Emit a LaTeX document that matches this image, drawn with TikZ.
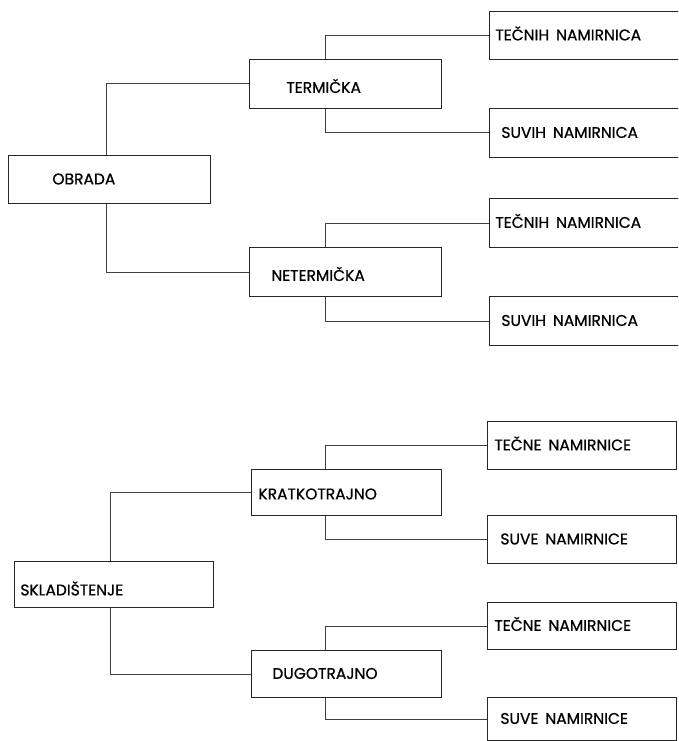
\documentclass[tikz,border=0pt]{standalone}
\usepackage{fontspec}
\setmainfont{Poppins}
\newfontfamily\boxfont{Poppins}[FakeBold=0.8]
\usetikzlibrary{positioning}
\tikzset{
  box/.style 2 args={draw=black!85, line width=0.8pt, anchor=north west,
    inner xsep=#1, inner ysep=0pt, text width=#2, align=left,
    text height=10pt, text depth=0pt,
    font=\boxfont\fontsize{15.5}{17}\selectfont},
  link/.style={draw=black!75, line width=0.8pt}
}
\newcommand\gap{\hspace{0.45em}}
\begin{document}
\begin{tikzpicture}[x=1pt,y=-1pt]
\clip (0,0) rectangle (678,741);
% obrada
\node[box={44pt}{114pt}, minimum height=48pt] (ob) at (8,155) {OBRADA};
\node[box={37pt}{118pt}, minimum height=49pt, text height=18pt] (te) at (249,59) {TERMIČKA};
\node[box={22pt}{148pt}, minimum height=49pt, text height=18pt] (ne) at (249,247) {NETERMIČKA};
\node[box={6pt}{180pt}, minimum height=48pt] (t1) at (489,11) {TEČNIH\gap NAMIRNICA};
\node[box={12pt}{168pt}, minimum height=49pt] (s1) at (489,108) {SUVIH\gap NAMIRNICA};
\node[box={6pt}{180pt}, minimum height=49pt] (t2) at (489,198) {TEČNIH\gap NAMIRNICA};
\node[box={12pt}{168pt}, minimum height=49pt] (s2) at (489,296) {SUVIH\gap NAMIRNICA};
% skladistenje
\node[box={6pt}{187pt}, minimum height=46pt, text height=22pt] (sk) at (14,561) {SKLADIŠTENJE};
\node[box={7pt}{176pt}, minimum height=46pt, text height=14pt] (kr) at (251,469) {KRATKOTRAJNO};
\node[box={21pt}{148pt}, minimum height=47pt] (du) at (251,650) {DUGOTRAJNO};
\node[box={7pt}{175pt}, minimum height=48pt] (t3) at (487,421) {TEČNE\gap NAMIRNICE};
\node[box={13pt}{163pt}, minimum height=48pt] (s3) at (487,515) {SUVE\gap NAMIRNICE};
\node[box={7pt}{175pt}, minimum height=47pt] (t4) at (487,602) {TEČNE\gap NAMIRNICE};
\node[box={13pt}{163pt}, minimum height=43pt] (s4) at (487,697) {SUVE\gap NAMIRNICE};
% connectors
\draw[link] ([xshift=98pt]ob.north west) |- (te.west);
\draw[link] ([xshift=98pt]ob.south west) |- (ne.west);
\draw[link] ([xshift=76pt]te.north west) |- (t1.west);
\draw[link] ([xshift=76pt]te.south west) |- (s1.west);
\draw[link] ([xshift=76pt]ne.north west) |- (t2.west);
\draw[link] ([xshift=76pt]ne.south west) |- (s2.west);
\draw[link] ([xshift=96pt]sk.north west) |- (kr.west);
\draw[link] ([xshift=96pt]sk.south west) |- (du.west);
\draw[link] ([xshift=74pt]kr.north west) |- (t3.west);
\draw[link] ([xshift=74pt]kr.south west) |- (s3.west);
\draw[link] ([xshift=74pt]du.north west) |- (t4.west);
\draw[link] ([xshift=74pt]du.south west) |- (s4.west);
\end{tikzpicture}
\end{document}
